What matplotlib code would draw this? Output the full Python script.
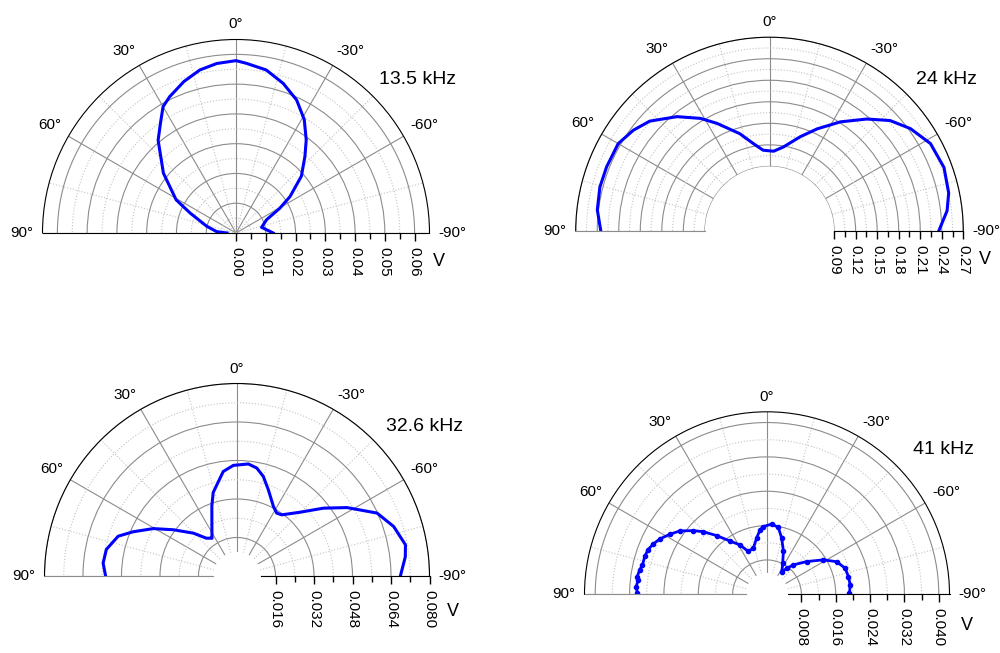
import matplotlib.pyplot as plt
import numpy as np
from matplotlib.transforms import ScaledTranslation

plt.rcParams['font.family'] = ['Liberation Sans', 'DejaVu Sans']

W, H = 1000, 653

# 13.5 kHz (angle in degrees, amplitude in V)
ang_13 = [90, 86, 77, 66.5, 61, 50.5, 40, 34.5, 30, 26, 19, 12.5, 6.5, 0,
          -3.5, -10.5, -17.5, -24.5, -31, -37, -42, -49, -56, -60.5, -66.5, -77.5, -90]
v_13 = [0.003, 0.0065, 0.0101, 0.0168, 0.023, 0.0316, 0.0407, 0.0448, 0.049, 0.0509,
        0.0538, 0.0561, 0.0573, 0.0579, 0.0571, 0.0557, 0.0527, 0.0491, 0.0445, 0.0392,
        0.0346, 0.0291, 0.0219, 0.0169, 0.0112, 0.0088, 0.0125]

# 24 kHz
ang_24 = [90, 83, 75.5, 68.5, 60, 53.5, 47.5, 39, 31.5, 26, 17, 10.5, 4.5, -3, -9.5,
          -18, -25, -33, -41, -47.5, -54, -61.5, -70, -78, -83.5, -90]
v_24 = [0.235, 0.2417, 0.2441, 0.2439, 0.2434, 0.236, 0.2265, 0.205, 0.184, 0.1668,
        0.1418, 0.1239, 0.1129, 0.1113, 0.1188, 0.138, 0.157, 0.1813, 0.2067, 0.2278,
        0.2427, 0.2552, 0.2587, 0.2552, 0.249, 0.2358]

# 32.6 kHz
ang_32 = [90, 84.5, 78.5, 71.5, 67, 60.5, 54, 45.5, 39, 35, 33.6, 25.1, 19.7, 15.9, 7.5,
          1.9, -5.8, -10.4, -14.8, -20, -27.7, -32.3, -36.2, -44.7, -51.9, -58.1, -65.8,
          -72.5, -79.5, -83.5, -90]
v_32 = [0.0546, 0.0559, 0.0554, 0.0521, 0.047, 0.040, 0.0327, 0.0254, 0.0202, 0.0192,
        0.0188, 0.0246, 0.031, 0.0361, 0.0438, 0.046, 0.0468, 0.0456, 0.0428, 0.0381,
        0.0326, 0.0309, 0.0315, 0.0373, 0.0457, 0.0538, 0.0638, 0.0683, 0.0712, 0.0704,
        0.0679]

# 41 kHz
ang_41 = [89.6, 86.6, 83.6, 82.2, 79.2, 76.7, 72.8, 69.5, 66.3, 62.7, 58.3, 54, 49.2,
          45.5, 40.6, 34.8, 28.7, 23.6, 16.5, 10.5, 6.2, 3.1, -3.8, -9.6, -14.7, -20.9,
          -26.8, -33.7, -37.1, -41.9, -50.5, -58.6, -64.9, -71.6, -77.7, -83.6, -89.3]
v_41 = [0.0302, 0.0305, 0.0302, 0.0305, 0.0302, 0.0298, 0.0298, 0.0296, 0.029, 0.0281,
        0.0266, 0.0251, 0.0227, 0.0208, 0.018, 0.0151, 0.0131, 0.0109, 0.0112, 0.0133,
        0.0151, 0.0158, 0.0164, 0.0158, 0.0135, 0.0107, 0.0081, 0.0062, 0.0076, 0.0092,
        0.012, 0.0154, 0.0179, 0.0192, 0.0194, 0.0195, 0.0192]

theta_major = [-90, -60, -30, 0, 30, 60, 90]
theta_labels = ['-90°', '-60°', '-30°', '0°', '30°', '60°', '90°']
theta_minor = [-75, -45, -15, 15, 45, 75]

fig = plt.figure(figsize=(10, 6.53), dpi=100)


def polar_panel(cx, cy, R, rmin, rmax, rticks, rminor, fmt, end_color):
    ax = fig.add_axes([(cx - R) / W, (H - cy - R / 2) / H, 2 * R / W, 2 * R / H],
                      projection='polar')
    ax.set_theta_zero_location('N')
    ax.set_thetamin(-90)
    ax.set_thetamax(90)
    ax.set_rorigin(0)
    ax.set_rlim(rmin, rmax)
    ax.set_xticks(np.radians(theta_major))
    ax.set_xticks(np.radians(theta_minor), minor=True)
    ax.set_yticks(rticks)
    ax.set_yticks(rminor, minor=True)
    ax.grid(which='major', color='#8c8c8c', lw=0.8, ls='-')
    ax.grid(which='minor', color='#c4c4c4', lw=0.8, ls=':')
    ax.tick_params(axis='x', which='both', labelbottom=False, labeltop=False)
    ax.xaxis.set_tick_params(which='major', direction='in', length=5)
    ax.xaxis.set_tick_params(which='minor', direction='in', length=3)
    ax.tick_params(axis='y', which='both', length=0, labelleft=False, labelright=False)
    ax.spines['polar'].set_color('k')
    ax.spines['start'].set_color('k')
    ax.spines['end'].set_color(end_color)
    ax.spines['inner'].set_color('none')

    # angle labels just outside the outer arc
    for a, s in zip(theta_major, theta_labels):
        t = np.radians(a)
        d = 9 if abs(a) == 90 else 8
        shift = ScaledTranslation(-np.sin(t) * d / 100, np.cos(t) * d / 100,
                                  fig.dpi_scale_trans)
        ha = 'center' if a == 0 else ('right' if a > 0 else 'left')
        va = 'center' if abs(a) == 90 else 'bottom'
        ax.text(t, rmax, s, transform=ax.transData + shift, ha=ha, va=va,
                fontsize=11, clip_on=False)

    # radial ticks hanging below the -90° baseline
    ax.plot([-np.pi / 2] * len(rticks), rticks, ls='none', marker=3, ms=6, mew=1,
            color='k', clip_on=False)
    ax.plot([-np.pi / 2] * len(rminor), rminor, ls='none', marker=3, ms=4, mew=1,
            color='k', clip_on=False)
    # radial tick labels below the baseline, reading downwards
    off = ax.transData + ScaledTranslation(0, -10 / 72, fig.dpi_scale_trans)
    for t in rticks:
        ax.text(-np.pi / 2, t, fmt % t, transform=off, rotation=-90,
                ha='center', va='top', fontsize=11, clip_on=False)
    return ax


ax1 = polar_panel(236, 233, 193.5, 0, 0.065,
                  [0, 0.01, 0.02, 0.03, 0.04, 0.05, 0.06],
                  [0.005, 0.015, 0.025, 0.035, 0.045, 0.055], '%.2f', 'k')
ax1.plot(np.radians(ang_13), v_13, color='#0000ff', lw=2.2)

ax2 = polar_panel(769.5, 231, 193.8, 0.09, 0.27,
                  [0.09, 0.12, 0.15, 0.18, 0.21, 0.24, 0.27],
                  [0.105, 0.135, 0.165, 0.195, 0.225, 0.255], '%.2f', '#8c8c8c')
ax2.plot(np.radians(ang_24), v_24, color='#0000ff', lw=2.2)

ax3 = polar_panel(237, 576, 192.5, 0.01, 0.08,
                  [0.016, 0.032, 0.048, 0.064, 0.080],
                  [0.024, 0.040, 0.056, 0.072], '%.3f', '#8c8c8c')
ax3.plot(np.radians(ang_32), v_32, color='#0000ff', lw=2.2)

ax4 = polar_panel(767, 594.3, 182.5, 0.005, 0.0425,
                  [0.008, 0.016, 0.024, 0.032, 0.040],
                  [0.012, 0.020, 0.028, 0.036], '%.3f', '#8c8c8c')
ax4.plot(np.radians(ang_41), v_41, color='#0000ff', lw=2, marker='o', ms=3)

for x, y, s in [(417.5, 79, '13.5 kHz'), (947, 79, '24 kHz'),
                (424.7, 426.7, '32.6 kHz'), (943.5, 449, '41 kHz')]:
    fig.text(x / W, 1 - y / H, s, ha='center', va='center', fontsize=14)

for x, y in [(439, 262), (984.8, 259), (452.5, 611.7), (966.7, 625)]:
    fig.text(x / W, 1 - y / H, 'V', ha='center', va='center', fontsize=13)

fig.savefig('out.png', dpi=100)
